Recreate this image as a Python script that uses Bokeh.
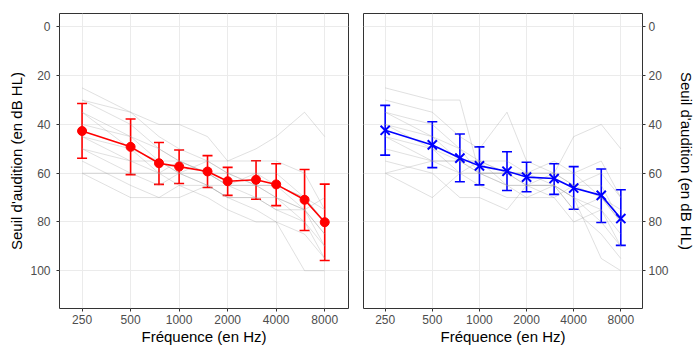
from bokeh.plotting import figure
from bokeh.models import (ColumnDataSource, Range1d, FixedTicker, NumeralTickFormatter,
                          Whisker, TeeHead)
from bokeh.layouts import row
from bokeh.embed import file_html
from bokeh.resources import INLINE

# ---------------- data ----------------
freqs = [250, 500, 750, 1000, 1500, 2000, 3000, 4000, 6000, 8000]
x_ticks = [250, 500, 1000, 2000, 4000, 8000]
y_ticks = [0, 20, 40, 60, 80, 100]

left_mean = [42.7, 49.2, 55.9, 57.3, 59.3, 63.3, 62.7, 64.6, 70.9, 80.1]
left_low = [31.4, 37.8, 47.4, 50.5, 52.8, 57.6, 54.9, 56.1, 58.5, 64.5]
left_high = [53.9, 60.6, 64.6, 64.2, 65.9, 69.1, 70.7, 73.3, 83.5, 95.8]

right_mean = [42.4, 48.4, 53.8, 57.0, 59.2, 61.6, 62.2, 66.1, 69.1, 78.6]
right_low = [32.2, 38.9, 43.9, 49.2, 51.2, 55.5, 56.1, 57.3, 58.3, 66.8]
right_high = [52.6, 57.7, 63.5, 64.8, 67.1, 67.6, 68.7, 74.8, 80.2, 89.6]

left_subjects = [
    [25, 35, 40, 40, 45, 55, 50, 45, 35, 45],
    [30, 35, 45, 50, 55, 55, 55, 55, 60, 75],
    [30, 40, 50, 55, 55, 60, 60, 65, 70, 80],
    [35, 45, 55, 55, 60, 60, 65, 65, 75, 85],
    [35, 50, 55, 60, 60, 65, 60, 60, 70, 80],
    [40, 45, 50, 55, 60, 65, 65, 70, 75, 90],
    [45, 50, 60, 60, 55, 60, 65, 70, 80, 95],
    [45, 55, 60, 55, 60, 65, 70, 70, 75, 85],
    [50, 55, 55, 60, 65, 70, 70, 75, 80, 90],
    [50, 60, 65, 60, 65, 70, 75, 80, 100, 100],
    [55, 65, 70, 70, 65, 65, 65, 65, 70, 75],
    [60, 70, 70, 65, 70, 75, 80, 80, 85, 95],
    [60, 60, 60, 65, 65, 70, 70, 75, 75, 70],
]

right_subjects = [
    [25, 30, 30, 60, 60, 65, 60, 60, 70, 80],
    [30, 35, 45, 50, 35, 55, 60, 45, 40, 50],
    [35, 40, 50, 55, 55, 60, 60, 65, 65, 80],
    [35, 45, 55, 55, 60, 60, 65, 70, 75, 85],
    [40, 45, 50, 60, 60, 60, 55, 60, 55, 70],
    [40, 50, 55, 55, 65, 65, 65, 70, 80, 90],
    [45, 50, 60, 60, 60, 60, 60, 65, 70, 80],
    [45, 55, 55, 60, 65, 65, 65, 75, 85, 95],
    [50, 55, 60, 65, 70, 70, 65, 70, 95, 100],
    [55, 60, 70, 70, 75, 65, 65, 75, 70, 75],
    [60, 70, 60, 55, 60, 65, 70, 80, 75, 90],
    [60, 55, 55, 60, 65, 70, 70, 65, 60, 70],
]

x_title = "Fréquence (en Hz)"
y_title = "Seuil d'audition (en dB HL)"

FONT = "Liberation Sans"


def style(p):
    p.outline_line_color = "#333333"
    p.outline_line_width = 1
    p.background_fill_color = "white"
    p.border_fill_color = "white"
    p.xgrid.ticker = FixedTicker(ticks=x_ticks)
    p.ygrid.ticker = FixedTicker(ticks=y_ticks)
    for g in (p.xgrid[0], p.ygrid[0]):
        g.grid_line_color = "#EBEBEB"
        g.grid_line_width = 1
    for ax in p.axis:
        ax.axis_line_color = None
        ax.major_tick_line_color = "#333333"
        ax.major_tick_in = 0
        ax.major_tick_out = 3
        ax.minor_tick_line_color = None
        ax.major_label_text_font = FONT
        ax.major_label_text_font_size = "12px"
        ax.major_label_text_color = "#4D4D4D"
        ax.axis_label_text_font = FONT
        ax.axis_label_text_font_size = "15px"
        ax.axis_label_text_font_style = "normal"
        ax.axis_label_text_color = "black"
    p.xaxis.ticker = FixedTicker(ticks=x_ticks)
    p.xaxis.formatter = NumeralTickFormatter(format="0")
    p.yaxis.ticker = FixedTicker(ticks=y_ticks)
    p.xaxis.axis_label = x_title
    p.xaxis.major_label_standoff = 3
    p.xaxis.axis_label_standoff = 1


def panel(width, bl, br, yloc, subjects, mean, low, high, color, marker, xr):
    p = figure(width=width, height=347, x_axis_type="log",
               x_range=Range1d(*xr), y_range=Range1d(115.5, -5.5),
               y_axis_location=yloc, output_backend="svg",
               toolbar_location=None, min_border_left=bl, min_border_right=br,
               min_border_top=13, min_border_bottom=36)
    style(p)
    p.multi_line(xs=[freqs] * len(subjects), ys=subjects,
                 line_color="#999999", line_alpha=0.3, line_width=1)
    src = ColumnDataSource(dict(x=freqs, m=mean, lo=low, hi=high))
    w = Whisker(base="x", lower="lo", upper="hi", source=src,
                line_color=color, line_width=1.6,
                upper_head=TeeHead(size=10, line_color=color, line_width=1.6),
                lower_head=TeeHead(size=10, line_color=color, line_width=1.6))
    p.add_layout(w)
    p.line("x", "m", source=src, line_color=color, line_width=1.6)
    if marker == "circle":
        p.scatter("x", "m", source=src, marker="circle", size=9,
                  fill_color=color, line_color=color)
    else:
        p.scatter("x", "m", source=src, marker="x", size=13,
                  line_color=color, line_width=2)
    p.yaxis.axis_label = y_title
    return p


p1 = panel(352, 59, 4, "left", left_subjects, left_mean, left_low, left_high,
           "#FF0000", "circle", (250 / 2 ** 0.465, 8000 * 2 ** 0.49))
p1.yaxis.major_label_standoff = 6
p1.yaxis.axis_label_standoff = 2

p2 = panel(345, 11, 46, "right", right_subjects, right_mean, right_low, right_high,
           "#0000FF", "x", (250 / 2 ** 0.46, 8000 * 2 ** 0.46))
p2.yaxis.major_label_standoff = 3
p2.yaxis.axis_label_standoff = 6

layout = row(p1, p2)
open("out.html", "w").write(file_html(layout, INLINE))
